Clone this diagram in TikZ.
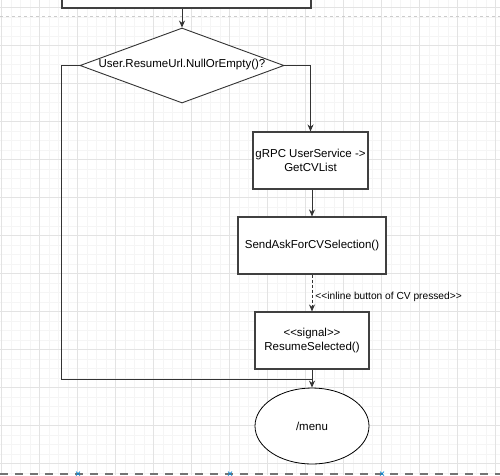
\documentclass[tikz,border=0pt]{standalone}
\usepackage{fontspec}
\setmainfont{Liberation Sans}
\usetikzlibrary{shapes.geometric,arrows.meta}
\begin{document}
\begin{tikzpicture}[x=1pt,y=-1pt,
  line/.style={draw=black!80, line width=0.9pt},
  arr/.style={line, -{Stealth[length=7pt,width=6pt]}},
  box/.style={draw=black!75, line width=1.1pt, fill=white, align=center, font=\fontsize{11.5}{14}\selectfont, inner sep=0pt},
  lbl/.style={font=\fontsize{10.2}{12}\selectfont, anchor=west, inner sep=0pt}
]
\useasboundingbox (0,0) rectangle (500,475);
\fill[white] (0,0) rectangle (500,475);
% minor grid
\foreach \i in {0,...,53} {
  \draw[black!4, line width=0.5pt] ({1.3+9.5*\i},0) -- ({1.3+9.5*\i},475);
}
\foreach \i in {0,...,50} {
  \draw[black!4, line width=0.5pt] (0,{7.3+9.5*\i}) -- (500,{7.3+9.5*\i});
}
% major grid
\foreach \i in {0,...,13} {
  \draw[black!11, line width=0.6pt] ({1.3+38*\i},0) -- ({1.3+38*\i},475);
}
\foreach \i in {0,...,12} {
  \draw[black!11, line width=0.6pt] (0,{7.3+38*\i}) -- (500,{7.3+38*\i});
}
% page break lines
\draw[black!20, dash pattern=on 3pt off 3pt, line width=0.6pt] (0,16) -- (500,16);
\draw[black!55, line width=1.2pt, dash pattern=on 8pt off 7pt] (0,474) -- (500,474);
\foreach \x in {78,230,382} {
  \draw[cyan!70!blue, line width=0.7pt] (\x-2,471.5) -- (\x+2,475.5) (\x-2,475.5) -- (\x+2,471.5);
}

% top box (cut off)
\node[box, minimum width=249, minimum height=30] (top) at (186.5,-7) {};

% diamond
\node[draw=black!80, line width=0.9pt, fill=white, diamond, aspect=2.7, inner sep=0pt,
  minimum width=204, minimum height=75] (dec) at (182,65.5) {};
\node[font=\fontsize{11.5}{14}\selectfont] (dectxt) at (182,65) {User.ResumeUrl.NullOrEmpty()?};

\node[box, minimum width=115, minimum height=57] (grpc) at (310.5,160.5) {gRPC UserService -{>}\\GetCVList};
\node[box, minimum width=148, minimum height=57] (send) at (312,245.5) {SendAskForCVSelection()};
\node[box, minimum width=114, minimum height=57] (sig) at (312,340.5) {{<}{<}signal{>}{>}\\ResumeSelected()};
\node[draw=black, line width=0.8pt, fill=white, ellipse, minimum width=114, minimum height=76,
  inner sep=0pt, font=\fontsize{11.5}{14}\selectfont] (menu) at (312,426) {/menu};

\coordinate (j) at (312,379);

\draw[arr] (top.south -| dec.north) -- (dec.north);
\draw[arr] (dec.east) -- (dec.east -| grpc.north) -- (grpc.north);
\draw[arr] (grpc.south -| send.north) -- (send.north);
\draw[arr, dash pattern=on 3pt off 2pt] (send.south) -- node[lbl, pos=0.6, xshift=3pt] (lab) {{<}{<}inline button of CV pressed{>}{>}} (sig.north);
\draw[line] (dec.west) -- (61,65.5) -- (61,379) -- (j);
\draw[arr] (sig.south) -- (menu.north);
\end{tikzpicture}
\end{document}
